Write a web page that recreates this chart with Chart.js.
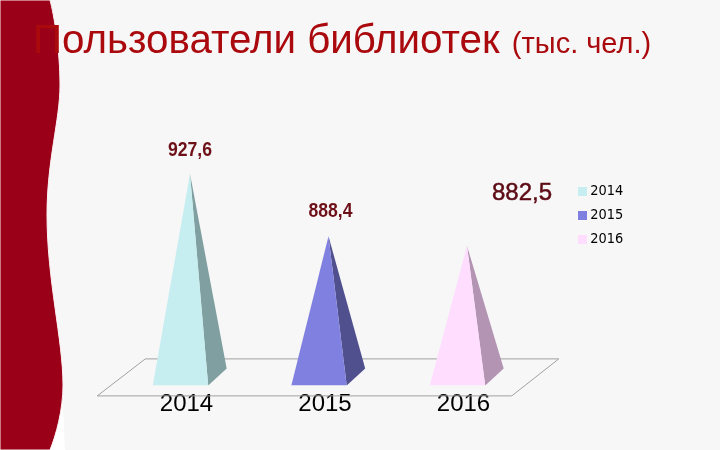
<!DOCTYPE html>
<html lang="ru">
<head>
<meta charset="utf-8">
<title>Пользователи библиотек</title>
<script src="https://cdn.jsdelivr.net/npm/chart.js@4"></script>
<style>
html,body{margin:0;padding:0;width:720px;height:450px;overflow:hidden;background:#f7f7f7}
#bg{position:absolute;left:0;top:0}
#wrap{position:absolute;left:0;top:0;width:720px;height:450px}
#title{position:absolute;left:33px;top:17px;white-space:nowrap;font-family:"Liberation Sans",Arial,sans-serif;font-size:40.3px;line-height:46px;color:#aa0a0e}
#title span{font-size:29px;margin-left:1px}
</style>
</head>
<body>
<svg id="bg" width="720" height="450" viewBox="0 0 720 450">
<path d="M60 385 C64 410 64 430 65 450 L48 450 Z" fill="#ffffff"/>
<path d="M0 0 L50 0 C54 15 60 50 60 85 C60 120 47 160 47 215 C47 280 63 340 63 385 C63 410 56 435 50 450 L0 450 Z" fill="#9a0018" stroke="#fdf0f2" stroke-width="1"/>
</svg>
<div id="wrap"><canvas id="c" width="720" height="450"></canvas></div>
<div id="title">Пользователи библиотек <span>(тыс. чел.)</span></div>
<script>
const categories = ['2014', '2015', '2016'];
const values = [927.6, 888.4, 882.5];
const faceColors = ['#c6edf0', '#8080e0', '#ffddff'];
const sideColors = ['#7f9fa0', '#50508f', '#b394b3'];
const valueLabelOffsets = [[0, -23.5], [2, -24.5], [55, -52]];
const AXIS_MIN = 795, AXIS_MAX = 1000;

const TIP_SHIFT = 9.5, DEPTH_X = 18.5, DEPTH_Y = 17;

function drawPyramid(ctx) {
  const {x, y, base, width} = this;
  const i = this.$context.dataIndex;
  const left = x - width / 2, right = x + width / 2, tipX = x + TIP_SHIFT;
  ctx.save();
  ctx.fillStyle = sideColors[i];
  ctx.beginPath();
  ctx.moveTo(tipX, y);
  ctx.lineTo(right, base);
  ctx.lineTo(right + DEPTH_X, base - DEPTH_Y);
  ctx.closePath();
  ctx.fill();
  ctx.fillStyle = faceColors[i];
  ctx.beginPath();
  ctx.moveTo(tipX, y);
  ctx.lineTo(left, base);
  ctx.lineTo(right, base);
  ctx.closePath();
  ctx.fill();
  ctx.restore();
}

const pyramidPlugin = {
  id: 'pyramids',
  afterDatasetsUpdate(chart) {
    chart.getDatasetMeta(0).data.forEach(el => { el.draw = drawPyramid; });
  }
};

const floorPlugin = {
  id: 'floor',
  beforeDatasetsDraw(chart) {
    const {ctx, chartArea: a} = chart;
    const b = a.bottom;
    ctx.save();
    ctx.strokeStyle = '#a0a0a0';
    ctx.lineWidth = 1;
    ctx.beginPath();
    ctx.moveTo(a.left - 14, b + 10.5);
    ctx.lineTo(a.left + 34, b - 26.5);
    ctx.lineTo(a.right + 32, b - 26.5);
    ctx.lineTo(a.right - 15, b + 10.5);
    ctx.closePath();
    ctx.stroke();
    ctx.restore();
  }
};

const valueLabelPlugin = {
  id: 'valueLabels',
  afterDatasetsDraw(chart) {
    const {ctx} = chart;
    chart.getDatasetMeta(0).data.forEach((el, i) => {
      const text = values[i].toFixed(1).replace('.', ',');
      const [dx, dy] = valueLabelOffsets[i];
      ctx.save();
      ctx.textAlign = 'center';
      ctx.textBaseline = 'middle';
      ctx.translate(el.x + TIP_SHIFT + dx, el.y + dy);
      if (i === 2) {
        ctx.font = '24px "Liberation Sans"';
        ctx.fillStyle = '#5c0a14';
        ctx.strokeStyle = '#5c0a14';
        ctx.lineWidth = 0.5;
        ctx.strokeText(text, 0, 0);
      } else {
        ctx.scale(0.88, 1);
        ctx.font = 'bold 20px "Liberation Sans"';
        ctx.fillStyle = '#6e1018';
      }
      ctx.fillText(text, 0, 0);
      ctx.restore();
    });
  }
};

const legendPlacePlugin = {
  id: 'legendPlace',
  afterLayout(chart) {
    const l = chart.legend;
    const w = l.width, h = l.height;
    l.left = 572.4; l.right = l.left + w;
    l.top = 174.7; l.bottom = l.top + h;
  }
};

new Chart(document.getElementById('c'), {
  type: 'bar',
  data: {
    labels: categories,
    datasets: [{data: values, base: AXIS_MIN, backgroundColor: faceColors, categoryPercentage: 1, barPercentage: 0.4}]
  },
  plugins: [pyramidPlugin, floorPlugin, valueLabelPlugin, legendPlacePlugin],
  options: {
    responsive: false,
    animation: false,
    layout: {padding: {left: 111.25, right: 193.25, top: 58, bottom: 26.6}},
    scales: {
      y: {display: false, min: AXIS_MIN, max: AXIS_MAX},
      x: {
        grid: {display: false, drawTicks: false},
        border: {display: false},
        ticks: {color: '#000', padding: 4.6, labelOffset: 6, maxRotation: 0,
                font: {family: '"Liberation Sans"', size: 24}}
      }
    },
    plugins: {
      tooltip: {enabled: false},
      title: {display: false},
      legend: {
        position: 'chartArea',
        align: 'start',
        labels: {
          usePointStyle: true, pointStyle: 'rect', boxWidth: 1, boxHeight: 9, padding: 9.6,
          color: '#111',
          font: {family: '"DejaVu Sans Condensed","DejaVu Sans"', size: 14.4},
          generateLabels: () => categories.map((t, i) => ({
            text: t, fillStyle: faceColors[i], strokeStyle: faceColors[i], lineWidth: 0, pointStyle: 'rect', index: i
          }))
        }
      }
    }
  }
});
</script>
</body>
</html>
